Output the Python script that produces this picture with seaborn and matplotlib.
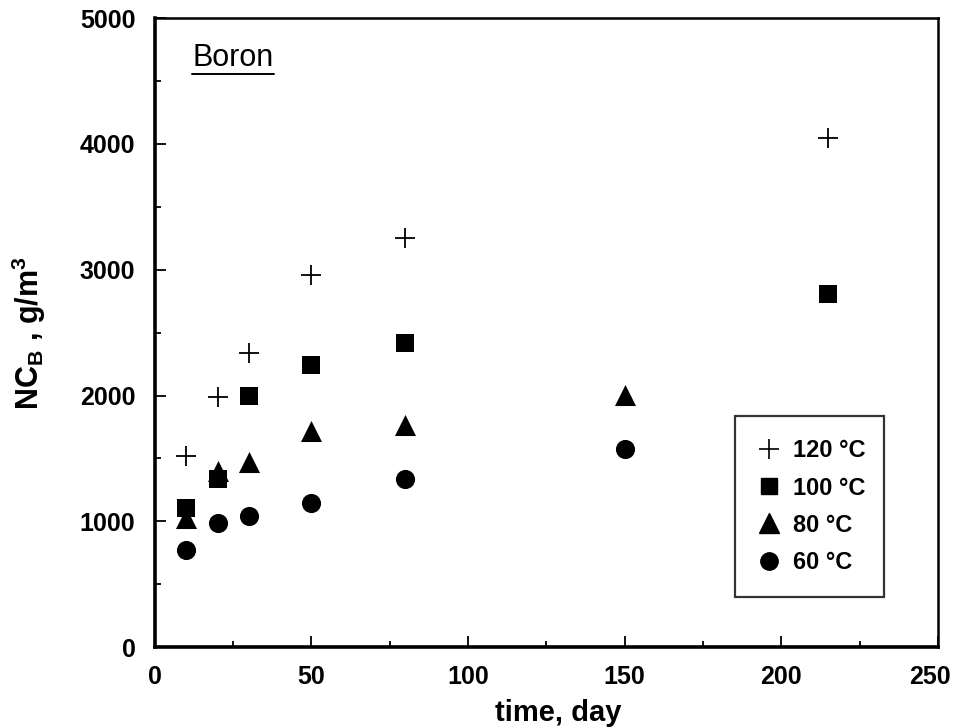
import matplotlib
matplotlib.use("Agg")
import matplotlib.pyplot as plt
from matplotlib.ticker import MultipleLocator
from matplotlib.lines import Line2D
from matplotlib.transforms import ScaledTranslation
import numpy as np
import pandas as pd
import seaborn as sns

# Boron release, NC_B (g/m^3) versus leaching time (days)
t_120 = [10, 20, 30, 50, 80, 215]
nc_120 = [1520, 1990, 2335, 2960, 3255, 4050]

t_100 = [10, 20, 30, 50, 80, 215]
nc_100 = [1105, 1340, 2000, 2240, 2420, 2805]

t_80 = [10, 20, 30, 50, 80, 150]
nc_80 = [1030, 1400, 1475, 1720, 1765, 2005]

t_60 = [10, 20, 30, 50, 80, 150]
nc_60 = [770, 990, 1040, 1150, 1340, 1575]

series_labels = ["120 °C", "100 °C", "80 °C", "60 °C"]

sns.set_theme(style="ticks")
plt.rcParams["font.family"] = ["Liberation Sans", "DejaVu Sans"]
plt.rcParams["text.color"] = "black"
plt.rcParams["axes.labelcolor"] = "black"
plt.rcParams["xtick.color"] = "black"
plt.rcParams["ytick.color"] = "black"
plt.rcParams["mathtext.fontset"] = "custom"
plt.rcParams["mathtext.rm"] = "Liberation Sans:bold"
plt.rcParams["mathtext.bf"] = "Liberation Sans:bold"
plt.rcParams["mathtext.it"] = "Liberation Sans:bold"

frames = []
for lab, t, v in zip(series_labels, [t_120, t_100, t_80, t_60], [nc_120, nc_100, nc_80, nc_60]):
    frames.append(pd.DataFrame({"time": t, "nc": v, "temp": lab}))
df = pd.concat(frames, ignore_index=True)

fig = plt.figure(figsize=(9.56, 7.28), dpi=100)
ax = fig.add_axes([0.162, 0.111, 0.819, 0.864])

styles = {
    "120 °C": dict(marker="+", s=200, linewidth=1.3),
    "100 °C": dict(marker="s", s=160, linewidth=0),
    "80 °C": dict(marker="^", s=230, linewidth=0),
    "60 °C": dict(marker="o", s=190, linewidth=0),
}
for lab in series_labels:
    sub = df[df["temp"] == lab]
    sns.scatterplot(data=sub, x="time", y="nc", color="black", ax=ax,
                    legend=False, **styles[lab])

ax.set_xlim(0, 250)
ax.set_ylim(0, 5000)
ax.xaxis.set_major_locator(MultipleLocator(50))
ax.xaxis.set_minor_locator(MultipleLocator(25))
ax.yaxis.set_major_locator(MultipleLocator(1000))
ax.yaxis.set_minor_locator(MultipleLocator(500))
ax.tick_params(which="both", direction="in", top=False, right=False,
               color="black", labelcolor="black", width=1.3)
ax.tick_params(which="major", length=8)
ax.tick_params(which="minor", length=4)
ax.tick_params(axis="x", which="major", pad=13)
ax.tick_params(axis="y", which="major", pad=14)

for side in ["left", "bottom"]:
    ax.spines[side].set_linewidth(2.6)
for side in ["top", "right"]:
    ax.spines[side].set_linewidth(1.8)
for sp in ax.spines.values():
    sp.set_color("black")

for lbl in ax.get_xticklabels() + ax.get_yticklabels():
    lbl.set_fontweight("bold")
    lbl.set_fontsize(18)

ax.set_xlabel("time, day", fontsize=21, fontweight="bold", color="black")
ax.xaxis.set_label_coords(0.515, -0.083)
ax.set_ylabel(r"NC$_{\mathrm{B}}$ , g/m$^{\mathrm{3}}$", fontsize=22,
              fontweight="bold", color="black")
ax.yaxis.set_label_coords(-0.137, 0.5)

# Element name, underlined
boron = ax.text(12, 4680, "Boron", fontsize=22, va="center", ha="left", color="black")
fig.canvas.draw()
bb = boron.get_window_extent(renderer=fig.canvas.get_renderer())
inv = ax.transData.inverted()
(x0, y0), (x1, _) = inv.transform([(bb.x0, bb.y0 - 1), (bb.x1, bb.y0 - 1)])
ax.add_line(Line2D([x0, x1], [y0, y0], color="black", linewidth=1.4))

# keep the last x tick label inside the figure edge
for tick in ax.xaxis.get_major_ticks():
    if abs(tick.get_loc() - 250) < 1e-9:
        lab = tick.label1
        lab.set_transform(lab.get_transform() + ScaledTranslation(-8 / 100, 0, fig.dpi_scale_trans))

handles = [
    Line2D([], [], linestyle="none", marker="+", color="black", markersize=14, markeredgewidth=1.2),
    Line2D([], [], linestyle="none", marker="s", color="black", markersize=11),
    Line2D([], [], linestyle="none", marker="^", color="black", markersize=14),
    Line2D([], [], linestyle="none", marker="o", color="black", markersize=12.5),
]
leg = ax.legend(handles, series_labels, loc="upper left",
                bbox_to_anchor=(0.741, 0.368, 0.19, 0.0), mode="expand",
                frameon=True, fancybox=False, edgecolor="black",
                prop={"weight": "bold", "size": 17}, handlelength=0.9,
                handletextpad=0.55, labelspacing=0.6, borderpad=1.0,
                borderaxespad=0, labelcolor="black")
leg.get_frame().set_linewidth(1.6)

fig.savefig("out.png", dpi=100, facecolor="white")
